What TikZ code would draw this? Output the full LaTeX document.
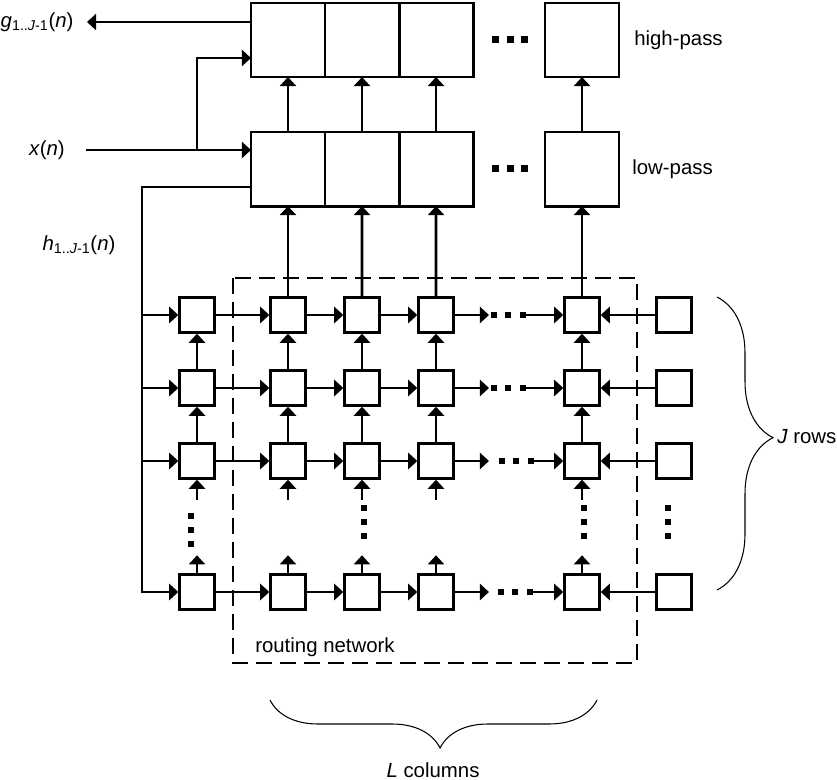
\documentclass[tikz,border=0pt]{standalone}
\usepackage{fontspec}
\setmainfont{Liberation Sans}
\usetikzlibrary{arrows.meta, positioning, decorations.pathreplacing}
\tikzset{
    cell/.style={rectangle, draw=black, line width=2.1pt, fill=white,
                 minimum size=0.86cm, inner sep=0pt},
    filt/.style={rectangle, draw=black, line width=2.1pt, fill=white,
                 minimum size=1.85cm, inner sep=0pt, outer sep=0pt},
    arrow/.style={-{Triangle[length=6.5pt, width=11.5pt]}, line width=2pt},
    lbl/.style={inner sep=0pt},
    region/.style={draw=black, dash pattern=on 0.4cm off 0.2cm, line width=1.1pt},
    brc/.style={decorate, decoration={brace, amplitude=#1, aspect=0.48}, line width=0.75pt},
}

\begin{document}
\begin{tikzpicture}[x=0.025cm, y=-0.025cm, font=\fontsize{14.5}{17}\selectfont]
        \useasboundingbox (0,0) rectangle (837,780);
        \draw[region] (233,278) rectangle (637,663);
        \node[lbl, anchor=west] (rnlbl) at (255,647) {routing network};
        \node[filt] (hp1) at (288,40) {};
        \node[filt, right=0pt of hp1] (hp2) {};
        \node[filt, right=0pt of hp2] (hp3) {};
        \node[filt] (hpL) at (582,40) {};
        \node[filt, below=1.375cm of hp1] (lp1) {};
        \node[filt, right=0pt of lp1] (lp2) {};
        \node[filt, right=0pt of lp2] (lp3) {};
        \node[filt, below=1.375cm of hpL] (lpL) {};
        \node[lbl, right=0.375cm of hpL] (hplbl) {high-pass};
        \node[lbl, right=0.325cm of lpL] (lplbl) {low-pass};
        \foreach \x in {495,510,524} {
            \fill (\x-3.5,36.5) rectangle ++(7,7);
            \fill (\x-3.5,165.5) rectangle ++(7,7);
        }
        \foreach \r/\y in {1/315,2/388,3/461,4/592}
            \foreach \c/\x in {0/197,1/288,2/362,3/436,5/582,6/674}
                \node[cell] (c\r\c) at (\x,\y) {};
        \draw[arrow] (c11) -- (lp1);
        \draw[arrow] (c12) -- (lp2);
        \draw[arrow] (c13) -- (lp3);
        \draw[arrow] (c15) -- (lpL);
        \draw[arrow] (lp1) -- (hp1);
        \draw[arrow] (lp2) -- (hp2);
        \draw[arrow] (lp3) -- (hp3);
        \draw[arrow] (lpL) -- (hpL);
        \coordinate (gend) at (87,22);
        \node[lbl, left=0.33cm of gend] (glbl) {\textit{g}\textsubscript{1..\textit{J}-1}(\textit{n})};
        \draw[arrow] (gend -| hp1.west) -- (gend);
        \coordinate (xstart) at (86,150);
        \node[lbl, left=0.525cm of xstart] (xlbl) {\textit{x}(\textit{n})};
        \coordinate (xsplit) at (197,150);
        \coordinate (hpin) at (197,58);
        \draw[arrow] (xstart) -- (xstart -| lp1.west);
        \draw[arrow] (xsplit) |- (hpin -| hp1.west);
        \coordinate (hin) at (142,187);
        \node[lbl] (hlbl) at (79,245) {\textit{h}\textsubscript{1..\textit{J}-1}(\textit{n})};
        \draw[arrow] (hin -| lp1.west) -- (hin) |- (c40);
        \foreach \r in {1,2,3}
            \draw[arrow] (hin |- c\r0) -- (c\r0);
        \foreach \r/\y/\o in {1/315/0,2/388/0,3/461/8,4/592/7} {
            \draw[arrow] (c\r0) -- (c\r1);
            \draw[arrow] (c\r1) -- (c\r2);
            \draw[arrow] (c\r2) -- (c\r3);
            \coordinate (e\r) at (489,\y);
            \draw[arrow] (c\r3) -- (e\r);
            \foreach \x in {494,508,523}
                \fill (\x+\o-3,\y-3) rectangle ++(6,6);
            \coordinate (d\r) at (523+\o,\y);
            \draw[arrow] (d\r) -- (c\r5);
            \draw[arrow] (c\r6) -- (c\r5);
        }
        \foreach \c in {0,1,2,3,5} {
            \draw[arrow] (c2\c) -- (c1\c);
            \draw[arrow] (c3\c) -- (c2\c);
            \draw[arrow] ([yshift=-0.5cm]c3\c.south) -- (c3\c);
            \draw[arrow] (c4\c) -- ([yshift=0.45cm]c4\c.north);
        }
        \foreach \x/\t in {191/516,364/508,584/508,668/508}
            \foreach \s in {0,14,28}
                \fill (\x-3,\t+\s-3) rectangle ++(6,6);
        \draw[brc=1.4cm] (717,297) -- (717,590);
        \node[lbl, anchor=west] (jlbl) at (777,437) {\textit{J} rows};
        \draw[brc=1.2cm] (597,700) -- (270,700);
        \node[lbl] (llbl) at (433,770) {\textit{L} columns};
    \end{tikzpicture}
\end{document}
